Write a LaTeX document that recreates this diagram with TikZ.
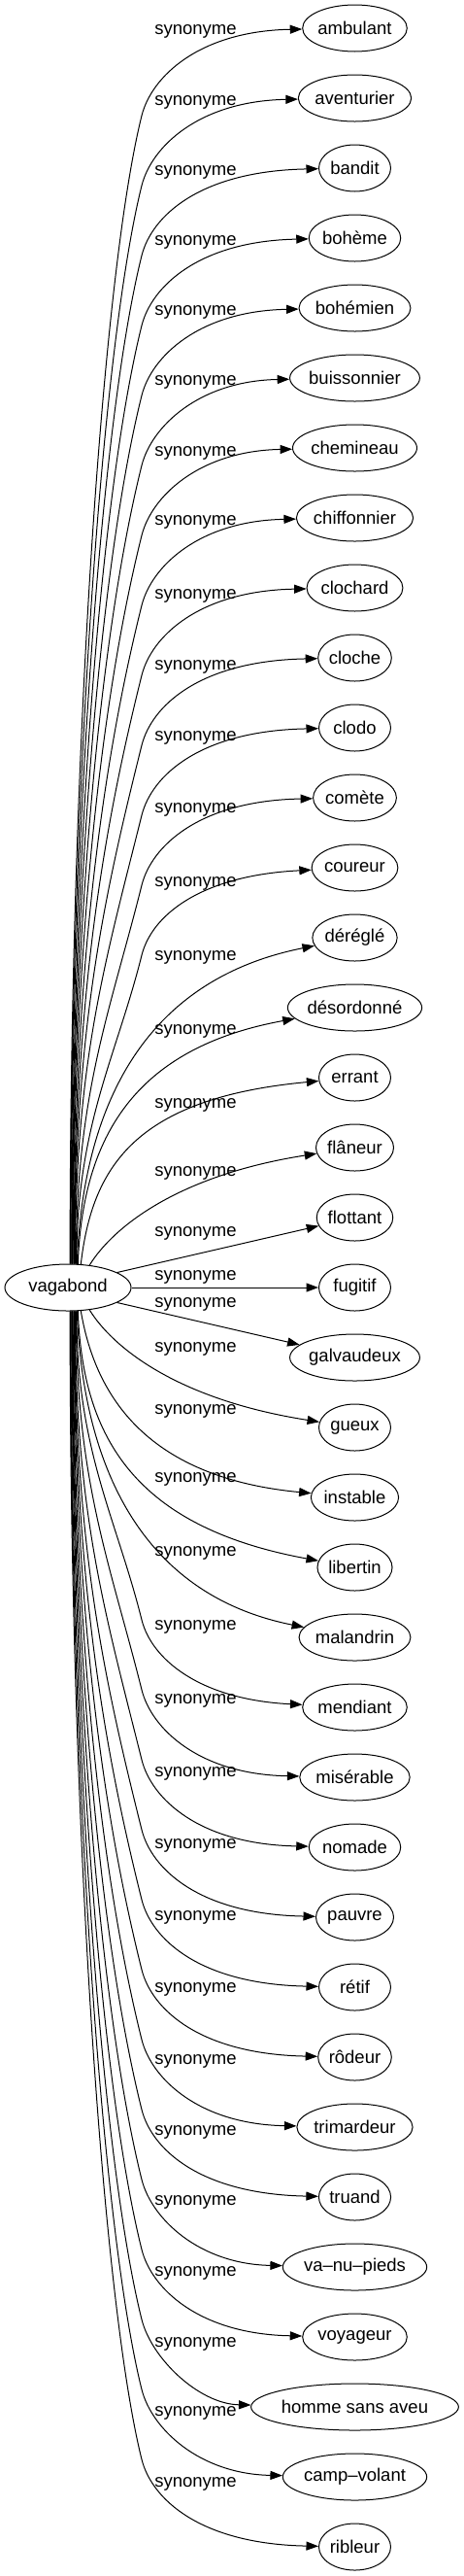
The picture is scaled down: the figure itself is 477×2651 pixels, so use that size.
\documentclass[tikz,border=0pt]{standalone}
\usepackage{fontspec}
\newfontfamily\gf{Liberation Sans}
\usetikzlibrary{arrows.meta,shapes.geometric}
\newlength\twd
\newcommand\gsz{\fontsize{18.5}{22}\selectfont}
\tikzset{
  every node/.style={font=\gf\gsz},
  word/.style={draw, ellipse, line width=1pt, inner sep=0pt, minimum height=48pt},
  lbl/.style={inner sep=0pt},
  edge/.style={line width=1pt, -{Triangle[length=12.5pt,width=9pt]}},
}
\newcommand\tnode[3]{%
  \settowidth\twd{\gf\gsz #3}%
  \pgfmathsetmacro\mw{max(74,1.186*\twd+33)}%
  \node[word, minimum width=\mw pt] (#1) at (365.5,#2) {#3};%
}
\newcommand\slab[2]{\node[lbl] (#1) at (201.5,#2) {synonyme};}
\newcommand\faredge[5]{%
  \pgfmathsetmacro\dd{abs(#2-1325)}%
  \pgfmathsetmacro\len{\dd-114}%
  \pgfmathsetmacro\lam{min(4,\len/120)}%
  \pgfmathtruncatemacro\ang{round((#3)*atan2(24*sqrt(1-(#4/65)^2),#4))}%
  \pgfmathsetmacro\cax{70+#4}%
  \pgfmathsetmacro\cay{1325-(#3)*(24+0.45*\len)}%
  \pgfmathsetmacro\my{#2+(#3)*90}%
  \pgfmathsetmacro\cbx{146-10*\lam}%
  \pgfmathsetmacro\cby{#2+(#3)*(90+40*\lam)}%
  \pgfmathsetmacro\ccy{#2+(#3)*50}%
  \pgfmathsetmacro\cdy{#2+(#3)*(#5)}%
  \draw[edge] (v.\ang) .. controls (\cax,\cay) and (\cbx,\cby) .. (146,\my) .. controls (156,\ccy) and (205,\cdy) .. (#1);%
}
\begin{document}
\begin{tikzpicture}[x=1pt,y=-1pt]
\fill[white] (0,0) rectangle (477,2651);
\useasboundingbox (0,0) rectangle (477,2651);
\node[word, minimum width=130pt] (v) at (70,1325) {vagabond};
\tnode{n0}{29}{ambulant}
\tnode{n1}{101}{aventurier}
\tnode{n2}{173}{bandit}
\tnode{n3}{245}{bohème}
\tnode{n4}{317}{bohémien}
\tnode{n5}{389}{buissonnier}
\tnode{n6}{461}{chemineau}
\tnode{n7}{533}{chiffonnier}
\tnode{n8}{605}{clochard}
\tnode{n9}{677}{cloche}
\tnode{n10}{749}{clodo}
\tnode{n11}{821}{comète}
\tnode{n12}{893}{coureur}
\tnode{n13}{965}{déréglé}
\tnode{n14}{1037}{désordonné}
\tnode{n15}{1109}{errant}
\tnode{n16}{1181}{flâneur}
\tnode{n17}{1253}{flottant}
\tnode{n18}{1325}{fugitif}
\tnode{n19}{1397}{galvaudeux}
\tnode{n20}{1469}{gueux}
\tnode{n21}{1541}{instable}
\tnode{n22}{1613}{libertin}
\tnode{n23}{1685}{malandrin}
\tnode{n24}{1757}{mendiant}
\tnode{n25}{1829}{misérable}
\tnode{n26}{1901}{nomade}
\tnode{n27}{1973}{pauvre}
\tnode{n28}{2045}{rétif}
\tnode{n29}{2117}{rôdeur}
\tnode{n30}{2189}{trimardeur}
\tnode{n31}{2261}{truand}
\tnode{n32}{2333}{va–nu–pieds}
\tnode{n33}{2405}{voyageur}
\tnode{n34}{2477}{homme sans aveu}
\tnode{n35}{2549}{camp–volant}
\tnode{n36}{2621}{ribleur}
% labels
\slab{l0}{32}\slab{l1}{105}\slab{l2}{177}\slab{l3}{249}\slab{l4}{321}
\slab{l5}{393}\slab{l6}{466}\slab{l7}{537}\slab{l8}{613}\slab{l9}{686}
\slab{l10}{759}\slab{l11}{833}\slab{l12}{909}\slab{l13}{985}\slab{l14}{1061}
\slab{l15}{1137}\slab{l16}{1207}\slab{l17}{1269}\slab{l18}{1314}\slab{l19}{1342}
\slab{l20}{1388}\slab{l21}{1452}\slab{l22}{1522}\slab{l23}{1598}\slab{l24}{1674}
\slab{l25}{1750}\slab{l26}{1825}\slab{l27}{1899}\slab{l28}{1973}\slab{l29}{2047}
\slab{l30}{2121}\slab{l31}{2194}\slab{l32}{2266}\slab{l33}{2339}\slab{l34}{2412}
\slab{l35}{2483}\slab{l36}{2556}
% far edges, top
\faredge{n0}{29}{1}{2}{3}
\faredge{n1}{101}{1}{2.55}{3}
\faredge{n2}{173}{1}{3.1}{3}
\faredge{n3}{245}{1}{3.65}{3}
\faredge{n4}{317}{1}{4.2}{3}
\faredge{n5}{389}{1}{4.75}{3}
\faredge{n6}{461}{1}{5.3}{3}
\faredge{n7}{533}{1}{5.85}{3}
\faredge{n8}{605}{1}{6.4}{3}
\faredge{n9}{677}{1}{6.95}{3}
\faredge{n10}{749}{1}{7.5}{3}
\faredge{n11}{821}{1}{8.05}{3}
\faredge{n12}{893}{1}{8.6}{8}
% far edges, bottom
\faredge{n36}{2621}{-1}{2}{3}
\faredge{n35}{2549}{-1}{2.55}{3}
\faredge{n34}{2477}{-1}{3.1}{3}
\faredge{n33}{2405}{-1}{3.65}{3}
\faredge{n32}{2333}{-1}{4.2}{3}
\faredge{n31}{2261}{-1}{4.75}{3}
\faredge{n30}{2189}{-1}{5.3}{3}
\faredge{n29}{2117}{-1}{5.85}{3}
\faredge{n28}{2045}{-1}{6.4}{3}
\faredge{n27}{1973}{-1}{6.95}{3}
\faredge{n26}{1901}{-1}{7.5}{3}
\faredge{n25}{1829}{-1}{8.05}{3}
\faredge{n24}{1757}{-1}{8.6}{8}
% near edges
\draw[edge] (v.69) .. controls (85,1150) and (140,1010) .. (n13);
\draw[edge] (v.67) .. controls (85,1180) and (130,1080) .. (n14);
\draw[edge] (v.61) .. controls (95,1200) and (140,1130) .. (n15);
\draw[edge] (v.46) .. controls (115,1265) and (180,1210) .. (n16);
\draw[edge] (v.17) -- (n17);
\draw[edge] (v) -- (n18);
\draw[edge] (v.-17) -- (n19);
\draw[edge] (v.-46) .. controls (115,1385) and (180,1440) .. (n20);
\draw[edge] (v.-61) .. controls (97,1430) and (145,1520) .. (n21);
\draw[edge] (v.-67) .. controls (85,1470) and (130,1570) .. (n22);
\draw[edge] (v.-69) .. controls (85,1500) and (140,1640) .. (n23);
\end{tikzpicture}
\end{document}
